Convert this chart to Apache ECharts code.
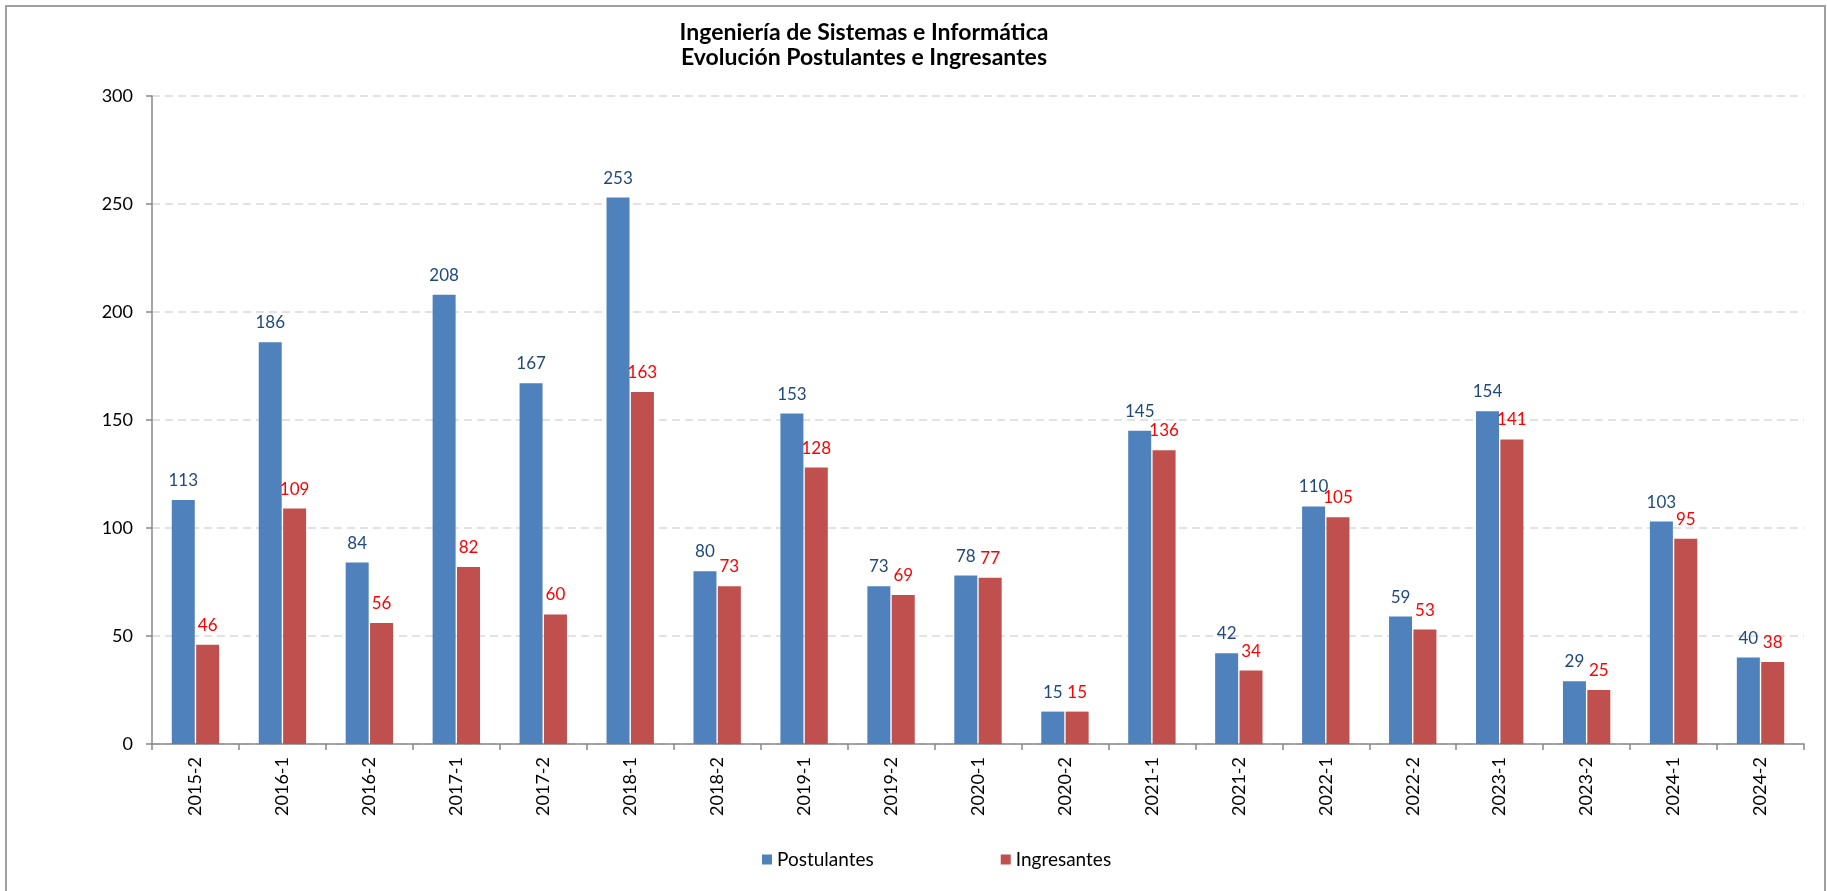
<!DOCTYPE html>
<html>
<head>
<meta charset="utf-8">
<script src="https://cdn.jsdelivr.net/npm/echarts@6/dist/echarts.min.js"></script>
<style>
html,body{margin:0;padding:0;background:#fff;}
#chart{width:1827px;height:891px;}
</style>
</head>
<body>
<div id="chart"></div>
<script>
const categories = ['2015-2','2016-1','2016-2','2017-1','2017-2','2018-1','2018-2','2019-1','2019-2','2020-1','2020-2','2021-1','2021-2','2022-1','2022-2','2023-1','2023-2','2024-1','2024-2'];
const postulantes = [113,186,84,208,167,253,80,153,73,78,15,145,42,110,59,154,29,103,40];
const ingresantes = [46,109,56,82,60,163,73,128,69,77,15,136,34,105,53,141,25,95,38];
const yTicks = {min:0, max:300, interval:50};
const titleLines = ['Ingeniería de Sistemas e Informática','Evolución Postulantes e Ingresantes'];
const seriesNames = ['Postulantes','Ingresantes'];

const FONT = 'Lato';
const chart = echarts.init(document.getElementById('chart'), null, {renderer:'canvas'});
chart.setOption({
  backgroundColor:'#fff',
  animation:false,
  textStyle:{fontFamily:FONT},
  title:{
    text: titleLines.join('\n'),
    left: 864, top: 20, textAlign:'center', padding:0,
    textStyle:{fontFamily:FONT, fontWeight:'bold', fontSize:23, lineHeight:25, color:'#000'}
  },
  graphic:[{
    type:'rect', silent:true,
    shape:{x:6,y:6,width:1819,height:900},
    style:{fill:'none', stroke:'#A0A0A0', lineWidth:2}
  }],
  legend:{
    data:seriesNames, left:762, top:850, padding:0, itemGap:127,
    itemWidth:10, itemHeight:10, icon:'rect',
    textStyle:{fontFamily:FONT, fontSize:19, color:'#000'}
  },
  grid:{left:152, right:23, top:96, bottom:147, containLabel:false},
  xAxis:{
    type:'category', data:categories, boundaryGap:true,
    axisLine:{lineStyle:{color:'#888', width:1.5}},
    axisTick:{show:true, length:6, alignWithLabel:false, lineStyle:{color:'#888', width:1.5}},
    axisLabel:{rotate:90, margin:13, fontSize:18, color:'#000', fontFamily:FONT, interval:0}
  },
  yAxis:{
    type:'value', min:yTicks.min, max:yTicks.max, interval:yTicks.interval,
    axisLine:{show:true, lineStyle:{color:'#888', width:1.5}},
    axisTick:{show:true, length:6, inside:false, lineStyle:{color:'#888', width:1.5}},
    axisLabel:{margin:19, fontSize:18, color:'#000', fontFamily:FONT},
    splitLine:{show:true, lineStyle:{color:'#D9D9D9', type:[8,5], width:1.5}}
  },
  series:[
    {
      name:seriesNames[0], type:'bar', data:postulantes, barWidth:23, barGap:'6%',
      itemStyle:{color:'#4F81BD'},
      label:{show:true, position:'top', distance:11, fontSize:17, color:'#1F497D', fontFamily:FONT}
    },
    {
      name:seriesNames[1], type:'bar', data:ingresantes, barWidth:23, barGap:'6%',
      itemStyle:{color:'#C0504D'},
      label:{show:true, position:'top', distance:11, fontSize:17, color:'#FF0000', fontFamily:FONT}
    }
  ]
});
</script>
</body>
</html>
